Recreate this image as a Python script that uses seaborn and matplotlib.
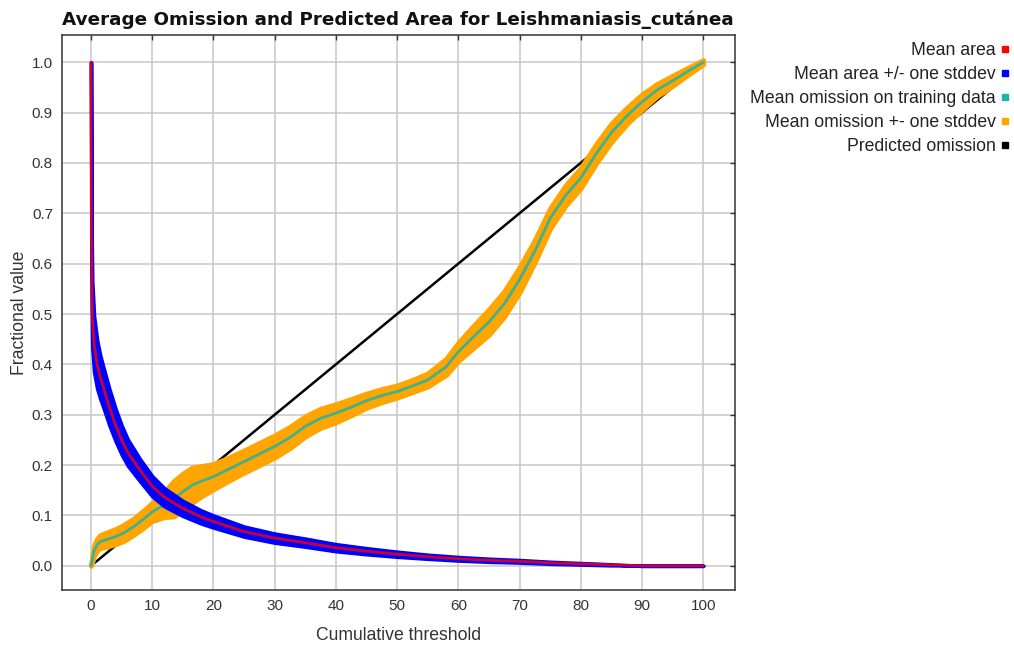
import matplotlib
matplotlib.use("Agg")
import matplotlib.pyplot as plt
import seaborn as sns
from matplotlib.lines import Line2D

# ---------------- data ----------------
area_x = [0, 0.05, 0.1, 0.2, 0.5, 1, 1.5, 2, 3, 4, 5, 6, 8, 10, 12, 15, 18, 20,
          25, 30, 35, 40, 45, 50, 55, 60, 65, 70, 75, 80, 85, 88, 90, 95, 100]
area_mean = [1.0, 0.72, 0.6, 0.5, 0.44, 0.40, 0.375, 0.355, 0.315, 0.28, 0.25, 0.225,
             0.19, 0.158, 0.136, 0.114, 0.097, 0.088, 0.068, 0.055, 0.046, 0.036,
             0.029, 0.023, 0.018, 0.014, 0.011, 0.009, 0.006, 0.004, 0.002, 0.001,
             0.0, 0.0, 0.0]
area_sd = [0.0, 0.05, 0.065, 0.065, 0.055, 0.048, 0.043, 0.04, 0.036, 0.032, 0.029,
           0.026, 0.022, 0.02, 0.018, 0.015, 0.013, 0.012, 0.01, 0.009, 0.008,
           0.007, 0.006, 0.005, 0.004, 0.0035, 0.003, 0.0025, 0.002, 0.0015,
           0.001, 0.0, 0.0, 0.0, 0.0]

om_x = [0, 0.5, 1, 1.5, 2.5, 4, 5.3, 7, 8.5, 10, 12, 13.5, 15, 16.5, 18, 20, 22.5,
        25, 27.5, 30, 32.5, 35, 37.5, 40, 42.5, 45, 47.5, 50, 52.5, 55, 58, 60,
        62.5, 65, 67.5, 70, 72.5, 75, 77.5, 80, 82.5, 85, 87.5, 90, 92.5, 95,
        97.5, 100]
om_mean = [0.0, 0.03, 0.042, 0.048, 0.052, 0.058, 0.065, 0.078, 0.092, 0.107,
           0.122, 0.133, 0.147, 0.16, 0.168, 0.177, 0.192, 0.207, 0.222, 0.237,
           0.255, 0.277, 0.293, 0.303, 0.315, 0.328, 0.338, 0.346, 0.357, 0.369,
           0.395, 0.425, 0.455, 0.484, 0.52, 0.568, 0.625, 0.69, 0.735, 0.77,
           0.818, 0.86, 0.893, 0.921, 0.945, 0.963, 0.982, 1.0]
om_sd = [0.0, 0.01, 0.012, 0.013, 0.014, 0.015, 0.016, 0.016, 0.017, 0.018,
         0.025, 0.035, 0.036, 0.035, 0.03, 0.025, 0.023, 0.022, 0.022, 0.022,
         0.021, 0.02, 0.019, 0.018, 0.016, 0.014, 0.013, 0.012, 0.012, 0.013,
         0.016, 0.018, 0.022, 0.025, 0.025, 0.025, 0.022, 0.02, 0.02, 0.02,
         0.019, 0.018, 0.016, 0.015, 0.012, 0.01, 0.007, 0.004]

pred_x = [0, 100]
pred_y = [0.0, 1.0]

x_ticks = [0, 10, 20, 30, 40, 50, 60, 70, 80, 90, 100]
y_ticks = [0.0, 0.1, 0.2, 0.3, 0.4, 0.5, 0.6, 0.7, 0.8, 0.9, 1.0]

legend_labels = ["Mean area", "Mean area +/- one stddev",
                 "Mean omission on training data", "Mean omission +- one stddev",
                 "Predicted omission"]
title = "Average Omission and Predicted Area for Leishmaniasis_cut\u00e1nea"

# ---------------- style ----------------
RED = "#ff0000"
BLUE = "#0000ff"
TEAL = "#20b2aa"
ORANGE = "#ffa500"
BLACK = "#000000"

sns.set_theme(style="white")
plt.rcParams["font.family"] = ["Liberation Sans", "DejaVu Sans"]

fig = plt.figure(figsize=(10.14, 6.46), dpi=100)
ax = fig.add_axes([62 / 1014, 56 / 646, 673 / 1014, 555 / 646])

# predicted omission
sns.lineplot(x=pred_x, y=pred_y, color=BLACK, lw=1.8, ax=ax, zorder=2)

# omission band
om_lo = [m - s for m, s in zip(om_mean, om_sd)]
om_hi = [m + s for m, s in zip(om_mean, om_sd)]
band_o = ax.fill_between(om_x, om_lo, om_hi, facecolor=ORANGE, edgecolor=ORANGE,
                         lw=3.6, zorder=3)
band_o.set_joinstyle("round")
band_o.set_capstyle("round")

# mean omission
sns.lineplot(x=om_x, y=om_mean, color=TEAL, lw=2.0, alpha=0.85, ax=ax, zorder=4)

# area band
ar_lo = [m - s for m, s in zip(area_mean, area_sd)]
ar_hi = [m + s for m, s in zip(area_mean, area_sd)]
band_a = ax.fill_between(area_x, ar_lo, ar_hi, facecolor=BLUE, edgecolor=BLUE,
                         lw=2.6, zorder=5)
band_a.set_joinstyle("round")
band_a.set_capstyle("round")

# mean area
sns.lineplot(x=area_x, y=area_mean, color=RED, lw=2.0, alpha=0.8, ax=ax, zorder=6)

# axes
ax.set_xlim(-4.74, 105.2)
ax.set_ylim(-0.048, 1.054)
ax.set_xticks(x_ticks)
ax.set_yticks(y_ticks)
ax.set_xticklabels([str(v) for v in x_ticks])
ax.set_yticklabels([f"{v:.1f}" for v in y_ticks])
ax.grid(True, color="#c8c8c8", lw=1.1)
ax.set_axisbelow(True)
for sp in ax.spines.values():
    sp.set_color("#333333")
    sp.set_linewidth(1.1)
ax.tick_params(direction="in", length=3.6, width=1.0, color="#333333",
               top=True, right=True, labeltop=False, labelright=False,
               labelsize=11, labelcolor="#333333", pad=6.5)

ax.set_xlabel("Cumulative threshold", fontsize=12.7, color="#333333", labelpad=10)
ax.set_ylabel("Fractional value", fontsize=12.7, color="#333333", labelpad=3)
ax.set_title(title, loc="left", fontsize=13.2, fontweight="bold",
             family="DejaVu Sans", color="#111111", pad=7)

handles = [Line2D([0], [0], marker="s", ls="", color=c, markersize=4.5)
           for c in [RED, BLUE, TEAL, ORANGE, BLACK]]
fig.legend(handles, legend_labels, loc="upper right",
           bbox_to_anchor=(1010 / 1014, 1 - 42 / 646), frameon=False,
           markerfirst=False, fontsize=12.7, labelspacing=0.4,
           handlelength=0.6, handletextpad=0.2, borderpad=0, borderaxespad=0,
           labelcolor="#222222")

fig.savefig("out.png", dpi=100)
